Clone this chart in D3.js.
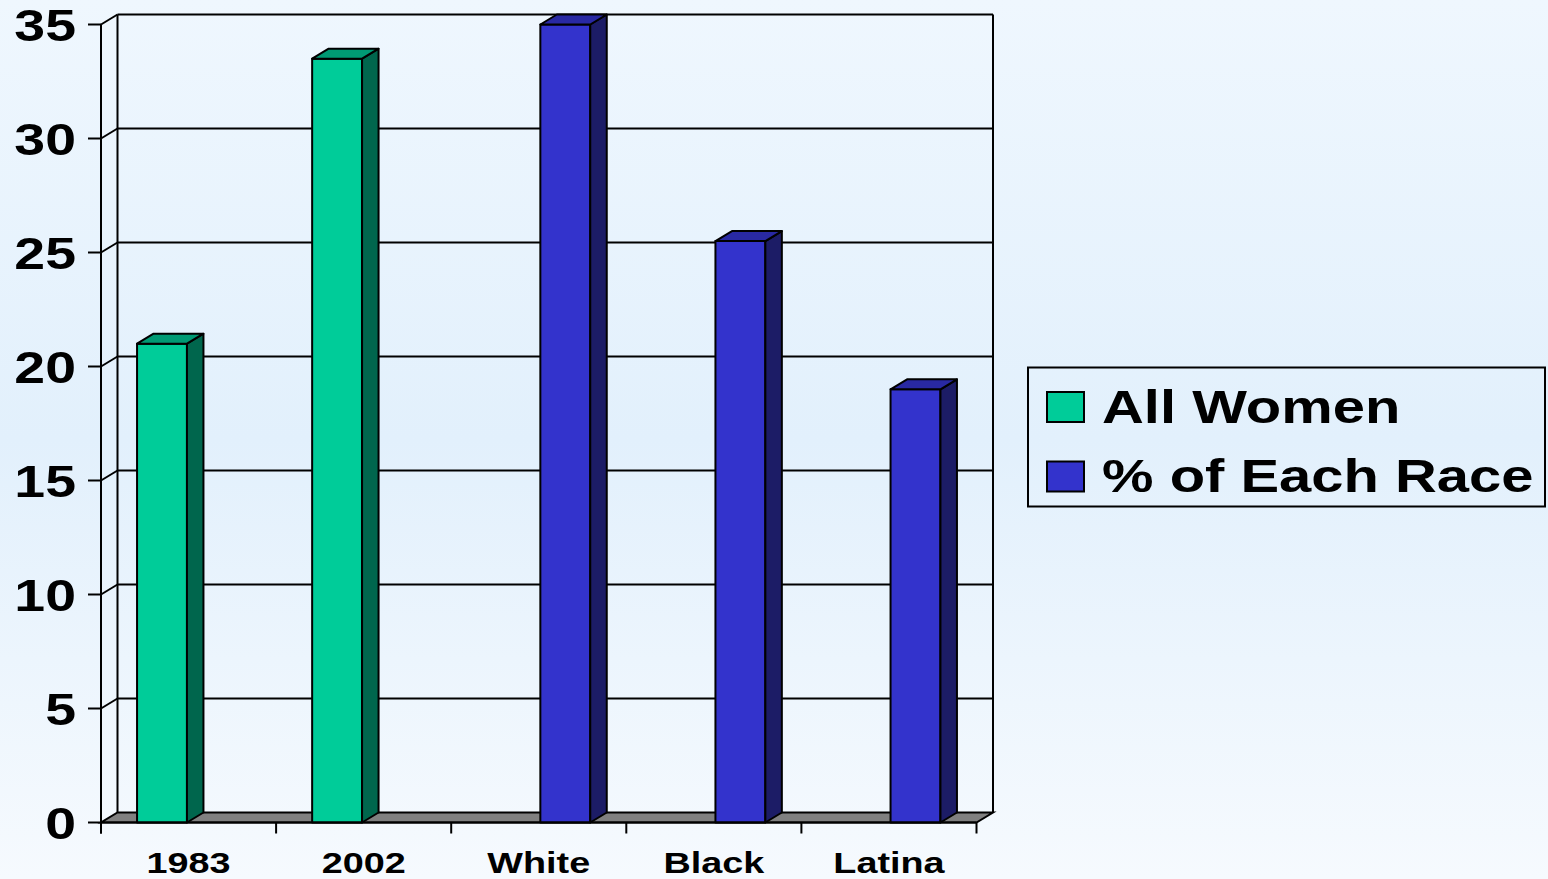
<!DOCTYPE html>
<html>
<head>
<meta charset="utf-8">
<script src="https://cdn.jsdelivr.net/npm/d3@7"></script>
<style>
  html, body { margin: 0; padding: 0; }
  body { width: 1548px; height: 879px; overflow: hidden; }
  svg { display: block; }
  text { font-family: "Liberation Sans", Arial, sans-serif; font-weight: bold; fill: #000; }
</style>
</head>
<body>
<svg id="chart" width="1548" height="879"></svg>
<script>
// Chart data
const categories = ["1983", "2002", "White", "Black", "Latina"];
const seriesNames = ["All Women", "% of Each Race"];
const allWomen = [21, 33.5, null, null, null];
const eachRace = [null, null, 35, 25.5, 19];
const yTicks = [0, 5, 10, 15, 20, 25, 30, 35];

// Face colours for each series: front, top, side
const palette = {
  "All Women":      { front: "#00CC99", top: "#009A74", side: "#00664D" },
  "% of Each Race": { front: "#3333CC", top: "#2929A3", side: "#1C1C66" }
};

const svg = d3.select("#chart");
const W = 1548, H = 879;
const textStretch = 1.26;

// Background gradient
const defs = svg.append("defs");
const grad = defs.append("linearGradient").attr("id", "bg")
  .attr("x1", 0).attr("y1", 0).attr("x2", 0).attr("y2", 1);
grad.append("stop").attr("offset", "0%").attr("stop-color", "#EFF7FE");
grad.append("stop").attr("offset", "50%").attr("stop-color", "#E2F0FC");
grad.append("stop").attr("offset", "100%").attr("stop-color", "#F6FAFE");
svg.append("rect").attr("width", W).attr("height", H).attr("fill", "url(#bg)");

// Front plane scales and 3D depth offset
const x0 = 101, x1 = 976.5;
const depthX = 16.5, depthY = -10;
const y = d3.scaleLinear().domain([0, 35]).range([822.5, 24.5]);
const x = d3.scaleBand().domain(categories).range([x0, x1]).padding(0);
const xs = d3.scaleBand().domain(seriesNames).range([-51.5, 51.5]).paddingInner(0.06);

const line = (g, a, b, c, d, w = 2) =>
  g.append("line").attr("x1", a).attr("y1", b).attr("x2", c).attr("y2", d)
    .attr("stroke", "#000").attr("stroke-width", w);

// Walls and gridlines
const walls = svg.append("g");
yTicks.forEach(t => {
  const yf = y(t), yb = yf + depthY;
  if (t > 0) {
    line(walls, x0 + depthX, yb, x1 + depthX, yb);
    line(walls, x0, yf, x0 + depthX, yb);
  }
});
line(walls, x0 + depthX, y(35) + depthY, x0 + depthX, y(0) + depthY);
line(walls, x1 + depthX, y(35) + depthY, x1 + depthX, y(0) + depthY);

// Floor
svg.append("path")
  .attr("d", d3.line()([
    [x0, y(0)], [x1, y(0)], [x1 + depthX, y(0) + depthY], [x0 + depthX, y(0) + depthY]
  ]) + "Z")
  .attr("fill", "#808080").attr("stroke", "#000").attr("stroke-width", 2)
  .attr("stroke-linejoin", "miter");

// Bars
const barData = [];
categories.forEach((c, i) => {
  if (allWomen[i] != null) barData.push({ cat: c, series: "All Women", value: allWomen[i] });
  if (eachRace[i] != null) barData.push({ cat: c, series: "% of Each Race", value: eachRace[i] });
});

const bars = svg.append("g").selectAll("g").data(barData).join("g");
bars.each(function(d) {
  const g = d3.select(this);
  const c = x(d.cat) + x.bandwidth() / 2;
  const bx = c + xs(d.series), bw = xs.bandwidth();
  const top = y(d.value), base = y(0);
  const col = palette[d.series];
  const poly = pts => d3.line()(pts) + "Z";
  g.append("path").attr("d", poly([[bx, base], [bx + bw, base], [bx + bw, top], [bx, top]]))
    .attr("fill", col.front);
  g.append("path").attr("d", poly([[bx + bw, base], [bx + bw + depthX, base + depthY],
      [bx + bw + depthX, top + depthY], [bx + bw, top]]))
    .attr("fill", col.side);
  g.append("path").attr("d", poly([[bx, top], [bx + bw, top], [bx + bw + depthX, top + depthY],
      [bx + depthX, top + depthY]]))
    .attr("fill", col.top);
  g.selectAll("path").attr("stroke", "#000").attr("stroke-width", 2).attr("stroke-linejoin", "round");
});

// Value axis
const axisG = svg.append("g");
line(axisG, x0, y(35), x0, y(0) + 11);
line(axisG, x0, y(0), x1, y(0));
yTicks.forEach(t => line(axisG, x0 - 13, y(t), x0, y(t)));
axisG.selectAll("text.ylab").data(yTicks).join("text")
  .attr("class", "ylab")
  .attr("transform", t => `translate(76,${y(t) + 16}) scale(${textStretch},1)`)
  .attr("text-anchor", "end")
  .attr("font-size", 44)
  .text(t => t);

// Category axis
const catTicks = d3.range(categories.length + 1).map(i => x0 + i * x.step());
catTicks.forEach(tx => line(axisG, tx, y(0), tx, y(0) + 11));
axisG.selectAll("text.xlab").data(categories).join("text")
  .attr("class", "xlab")
  .attr("transform", c => `translate(${x(c) + x.bandwidth() / 2},873) scale(${textStretch},1)`)
  .attr("text-anchor", "middle")
  .attr("font-size", 30)
  .text(c => c);

// Legend
const lg = svg.append("g");
lg.append("rect").attr("x", 1028).attr("y", 367.5).attr("width", 517).attr("height", 139)
  .attr("fill", "none").attr("stroke", "#000").attr("stroke-width", 2);
const legendRows = [{ name: "All Women", sy: 392, ty: 423 }, { name: "% of Each Race", sy: 461.5, ty: 492 }];
legendRows.forEach(r => {
  lg.append("rect").attr("x", 1047).attr("y", r.sy).attr("width", 37).attr("height", 30)
    .attr("fill", palette[r.name].front).attr("stroke", "#000").attr("stroke-width", 2);
  lg.append("text")
    .attr("transform", `translate(1102,${r.ty}) scale(${textStretch},1)`)
    .attr("font-size", 46)
    .text(r.name);
});
</script>
</body>
</html>
